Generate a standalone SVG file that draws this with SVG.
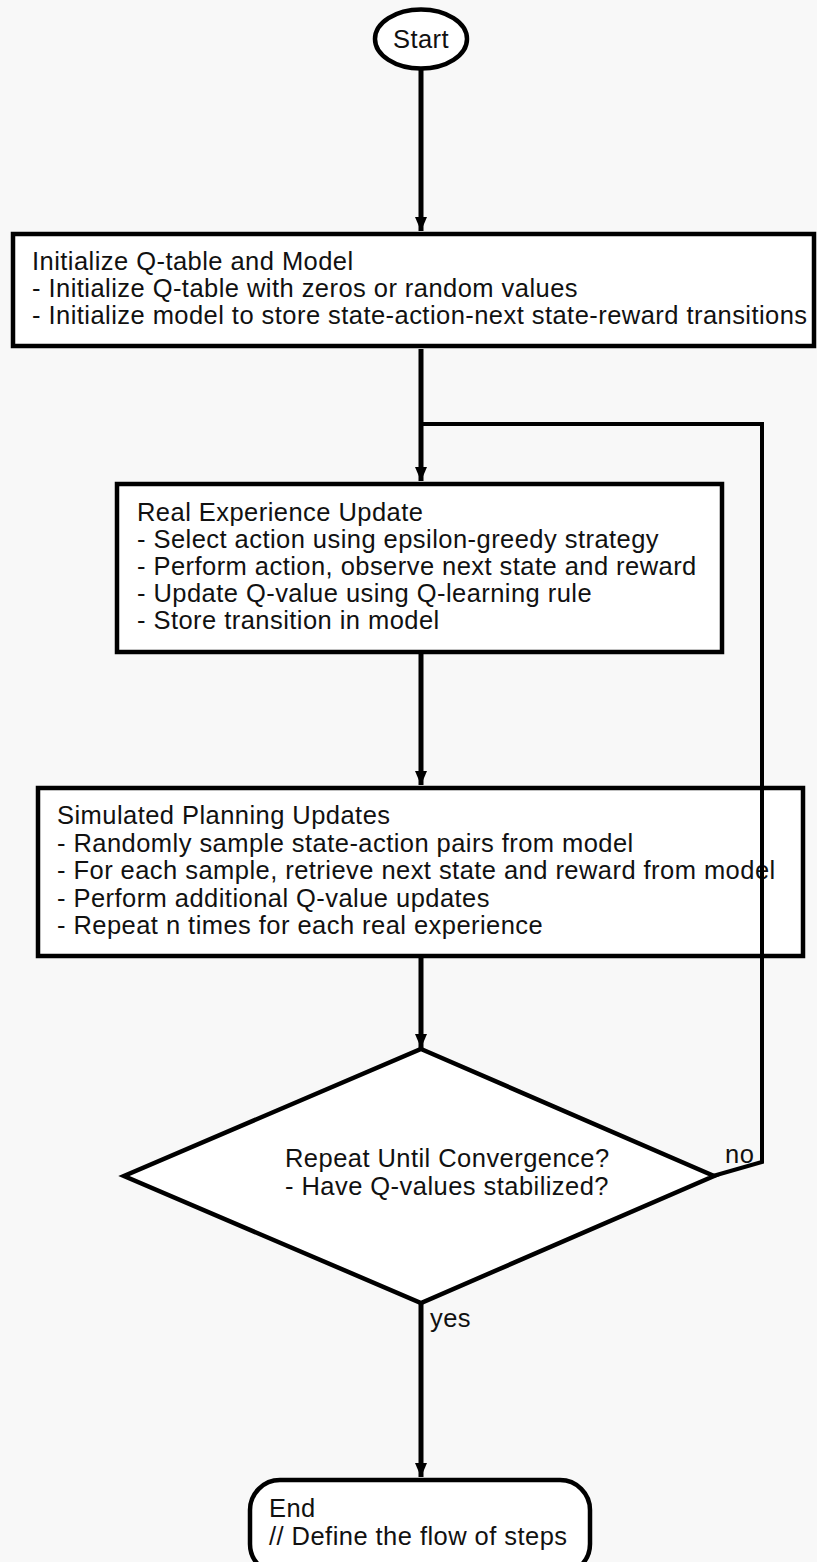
<svg xmlns="http://www.w3.org/2000/svg" width="817" height="1562" viewBox="0 0 817 1562">
  <defs>
    <style>
      .node { fill: #ffffff; stroke: #000000; stroke-width: 4.5; }
      .label { font-family: "Liberation Sans", Arial, sans-serif; font-size: 25.5px; letter-spacing: 0.45px; fill: #111111; }
      .edge { fill: none; stroke: #000000; stroke-width: 5; }
      .loop { fill: none; stroke: #000000; stroke-width: 4; }
    </style>
    <marker id="arrow" markerUnits="userSpaceOnUse" markerWidth="16" markerHeight="12" refX="14" refY="6" orient="auto">
      <path d="M0,0 L14,6 L0,12 z" fill="#000000"/>
    </marker>
  </defs>

  <rect x="0" y="0" width="817" height="1562" fill="#f8f8f8"/>

  <!-- connectors -->
  <g id="connectors">
    <line class="edge" x1="421" y1="70" x2="421" y2="231" marker-end="url(#arrow)"/>
    <line class="edge" x1="421" y1="349" x2="421" y2="481" marker-end="url(#arrow)"/>
    <line class="edge" x1="421" y1="654" x2="421" y2="785" marker-end="url(#arrow)"/>
    <line class="edge" x1="421" y1="958" x2="421" y2="1048" marker-end="url(#arrow)"/>
    <line class="edge" x1="421" y1="1303" x2="421" y2="1477" marker-end="url(#arrow)"/>
    <polyline class="loop" points="713,1176 762,1162 762,424 421,424"/>
    <text class="label" x="725" y="1163">no</text>
    <text class="label" x="430" y="1327">yes</text>
  </g>

  <!-- start terminal -->
  <g id="start">
    <ellipse class="node" cx="421" cy="39" rx="46" ry="29.5"/>
    <text class="label" x="421" y="48" text-anchor="middle">Start</text>
  </g>

  <!-- initialisation step -->
  <g id="init">
    <rect class="node" x="13" y="234" width="801" height="112"/>
    <text class="label" x="32" y="270">Initialize Q-table and Model</text>
    <text class="label" x="32" y="297">- Initialize Q-table with zeros or random values</text>
    <text class="label" x="32" y="324">- Initialize model to store state-action-next state-reward transitions</text>
  </g>

  <!-- real experience step -->
  <g id="real">
    <rect class="node" x="117" y="484" width="605" height="168"/>
    <text class="label" x="137" y="521">Real Experience Update</text>
    <text class="label" x="137" y="548">- Select action using epsilon-greedy strategy</text>
    <text class="label" x="137" y="575">- Perform action, observe next state and reward</text>
    <text class="label" x="137" y="602">- Update Q-value using Q-learning rule</text>
    <text class="label" x="137" y="629">- Store transition in model</text>
  </g>

  <!-- planning step -->
  <g id="planning">
    <rect class="node" x="38" y="788" width="765" height="168"/>
    <text class="label" x="57" y="824">Simulated Planning Updates</text>
    <text class="label" x="57" y="852">- Randomly sample state-action pairs from model</text>
    <text class="label" x="57" y="879">- For each sample, retrieve next state and reward from model</text>
    <text class="label" x="57" y="907">- Perform additional Q-value updates</text>
    <text class="label" x="57" y="934">- Repeat n times for each real experience</text>
  </g>

  <!-- redraw the loop line over the planning box, as it crosses it -->
  <line class="loop" x1="762" y1="780" x2="762" y2="964"/>

  <!-- convergence decision -->
  <g id="decision">
    <polygon class="node" stroke-width="4" points="421,1049 714,1176 421,1303 124,1176"/>
    <text class="label" x="285" y="1167">Repeat Until Convergence?</text>
    <text class="label" x="285" y="1195">- Have Q-values stabilized?</text>
  </g>

  <!-- end terminal -->
  <g id="end">
    <rect class="node" x="250" y="1480" width="340" height="94" rx="30" ry="30"/>
    <text class="label" x="269" y="1517">End</text>
    <text class="label" x="269" y="1545">// Define the flow of steps</text>
  </g>
</svg>
